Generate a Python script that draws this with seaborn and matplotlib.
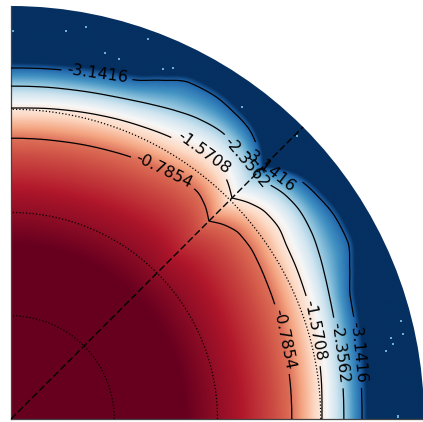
import numpy as np
import matplotlib
matplotlib.use("Agg")
import matplotlib.pyplot as plt
from matplotlib.patches import Wedge
import seaborn as sns

sns.set_style("white")

# contour levels drawn and labelled
levels = [-np.pi, -3 * np.pi / 4, -np.pi / 2, -np.pi / 4]

# angle measured from the nearest axis (deg), where radii are tabulated
phi_deg = [0, 8, 16, 20, 24, 28, 32, 36, 39, 42, 45]

# radius of each iso-value line versus phi (unit = outer radius)
r_inner0 = [0.0] * 11
r_inner1 = [0.42] * 11
r_inner2 = [0.550, 0.550, 0.552, 0.554, 0.556, 0.559, 0.561, 0.563, 0.562, 0.557, 0.550]
r_inner3 = [0.635, 0.636, 0.640, 0.643, 0.647, 0.651, 0.656, 0.660, 0.659, 0.651, 0.635]
r_q1 = [0.680, 0.682, 0.688, 0.692, 0.697, 0.702, 0.708, 0.713, 0.712, 0.700, 0.678]
r_q2 = [0.753, 0.758, 0.766, 0.771, 0.776, 0.782, 0.788, 0.797, 0.794, 0.780, 0.757]
r_q3 = [0.806, 0.809, 0.817, 0.824, 0.834, 0.846, 0.857, 0.862, 0.858, 0.846, 0.828]
r_q4 = [0.850, 0.854, 0.865, 0.874, 0.898, 0.922, 0.925, 0.918, 0.910, 0.890, 0.856]
r_outer1 = [0.870, 0.874, 0.885, 0.895, 0.920, 0.944, 0.947, 0.940, 0.930, 0.908, 0.872]
r_outer2 = [1.3] * 11

anchor_values = [0.3, 0.0, -0.32, -0.6, -np.pi / 4, -np.pi / 2,
                 -3 * np.pi / 4, -np.pi, -3.7, -5.0]
anchor_radii = [r_inner0, r_inner1, r_inner2, r_inner3, r_q1, r_q2,
                r_q3, r_q4, r_outer1, r_outer2]

# isolated bright cells in the outer region
speck_x = [0.005, 0.133, 0.182, 0.332, 0.228, 0.262, 0.368, 0.392,
           0.559, 0.692, 0.944, 0.949, 0.920, 0.925, 0.908, 0.937]
speck_y = [0.940, 0.940, 0.949, 0.920, 0.886, 0.872, 0.848, 0.850,
           0.755, 0.685, 0.237, 0.206, 0.196, 0.182, 0.165, 0.006]
speck_v = [-2.6] * 16

# dotted reference circles and dashed symmetry line
ring_radii = [0.25, 0.5, 0.75]
diag_angle = 45.0

vmin, vmax = -3.5, 0.0
cmap = sns.color_palette("RdBu_r", as_cmap=True)


def hermite_profile(xq, xp, yp):
    """Monotone cubic Hermite curve through the tabulated radii."""
    xp = np.asarray(xp, float)
    yp = np.asarray(yp, float)
    h = np.diff(xp)
    d = np.diff(yp) / h
    m = np.zeros_like(yp)
    for i in range(1, len(xp) - 1):
        if d[i - 1] * d[i] > 0:
            w1 = 2 * h[i] + h[i - 1]
            w2 = h[i] + 2 * h[i - 1]
            m[i] = (w1 + w2) / (w1 / d[i - 1] + w2 / d[i])
    m[0] = 0.0
    m[-1] = d[-1]
    idx = np.clip(np.searchsorted(xp, xq) - 1, 0, len(xp) - 2)
    t = (xq - xp[idx]) / h[idx]
    h00 = 2 * t**3 - 3 * t**2 + 1
    h10 = t**3 - 2 * t**2 + t
    h01 = -2 * t**3 + 3 * t**2
    h11 = t**3 - t**2
    return (h00 * yp[idx] + h10 * h[idx] * m[idx]
            + h01 * yp[idx + 1] + h11 * h[idx] * m[idx + 1])


# build the field on a Cartesian grid
n = 900
xs = np.linspace(0, 1, n)
X, Y = np.meshgrid(xs, xs)
R = np.hypot(X, Y)
TH = np.degrees(np.arctan2(Y, X))
PHI = np.clip(np.minimum(TH, 90 - TH), 0, 45)
prof = [hermite_profile(PHI, phi_deg, rr) for rr in anchor_radii]
F = np.full(R.shape, anchor_values[-1], dtype=float)
for k in range(len(anchor_values) - 1):
    r0, r1 = prof[k], prof[k + 1]
    m = (R >= r0) & (R < r1)
    t = (R - r0) / np.maximum(r1 - r0, 1e-9)
    F = np.where(m, anchor_values[k] + t * (anchor_values[k + 1] - anchor_values[k]), F)

fig = plt.figure(figsize=(4.23, 4.22), dpi=100)
ax = fig.add_axes([11 / 423, 3 / 422, 413 / 423, 413 / 422])

im = ax.imshow(F, origin="lower", extent=(0, 1, 0, 1), cmap=cmap,
               vmin=vmin, vmax=vmax, interpolation="bilinear", aspect="auto")
im.set_clip_path(Wedge((0, 0), 1.0, 0, 90, transform=ax.transData))

ax.scatter(speck_x, speck_y, c=speck_v, cmap=cmap, vmin=vmin, vmax=vmax,
           s=2.5, marker="s", linewidths=0, zorder=2)

cs = ax.contour(X, Y, F, levels=sorted(levels), colors="k",
                linewidths=0.9, linestyles="solid", zorder=3)
label_pos = [
    (0.208, 0.833), (0.627, 0.612), (0.845, 0.162),
    (0.554, 0.613), (0.794, 0.160),
    (0.460, 0.636), (0.731, 0.213),
    (0.368, 0.598), (0.659, 0.194),
]
ax.clabel(cs, fmt="%.4f", fontsize=11.5, inline=True, manual=label_pos)

tt = np.radians(np.linspace(0, 90, 400))
for rr in ring_radii:
    ax.plot(rr * np.cos(tt), rr * np.sin(tt), color="k", lw=0.9,
            linestyle=":", zorder=3)
a = np.radians(diag_angle)
ax.plot([0, np.cos(a)], [0, np.sin(a)], color="k", lw=1.0,
        linestyle=(0, (5, 2.2)), zorder=3)

ax.set_xlim(0, 1)
ax.set_ylim(0, 1)
ax.set_xticks([])
ax.set_yticks([])
for s in ["top", "right"]:
    ax.spines[s].set_visible(False)
for s in ["left", "bottom"]:
    ax.spines[s].set_color("#444444")
    ax.spines[s].set_linewidth(0.9)
ax.set_facecolor("none")

fig.savefig("out.png", dpi=100)
